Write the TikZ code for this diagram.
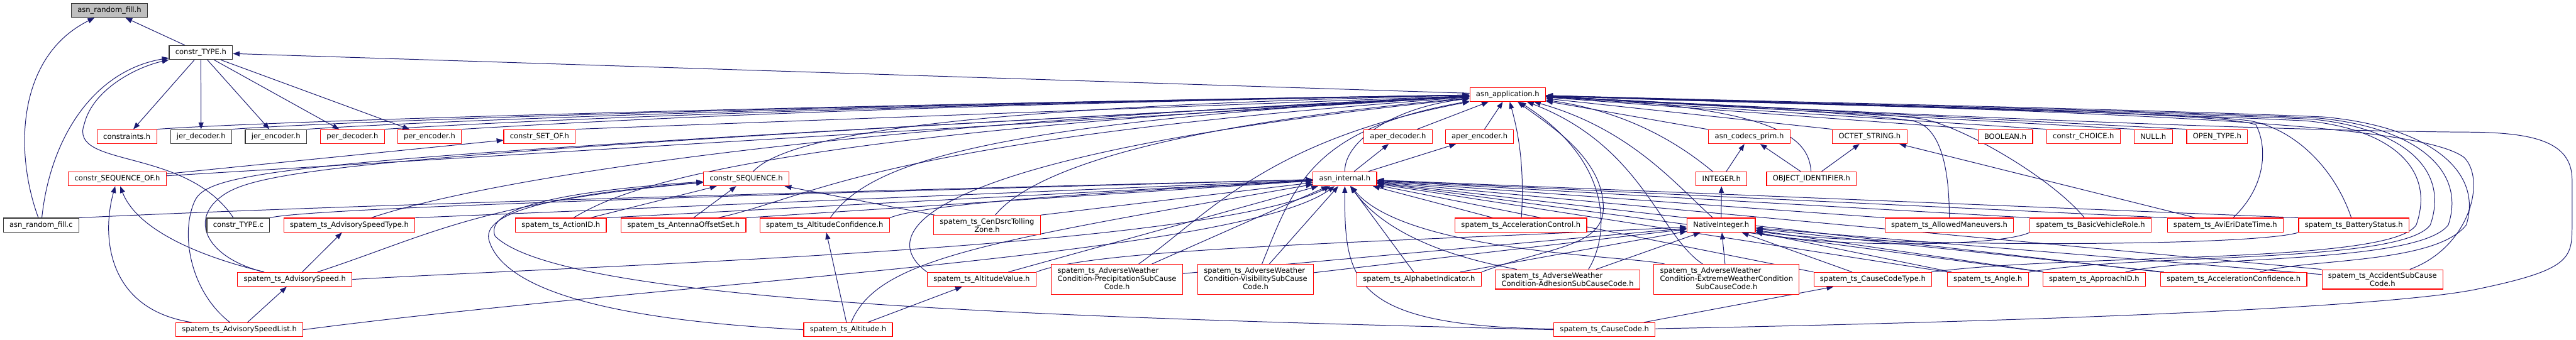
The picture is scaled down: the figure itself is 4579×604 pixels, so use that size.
\documentclass[tikz,border=0pt]{standalone}
\usepackage{fontspec}
\usetikzlibrary{arrows.meta, backgrounds}
\newfontfamily\doxfont{DejaVu Sans}
\definecolor{DoxEdge}{HTML}{191970}
\definecolor{DoxRed}{HTML}{FF0000}
\definecolor{DoxRoot}{HTML}{BFBFBF}
\newcommand{\doxsize}{\doxfont\fontsize{12.9}{14.5}\selectfont}
\newcommand{\threeline}[3]{\begin{tabular}{@{}l@{}}#1\\#2\\\multicolumn{1}{@{}c@{}}{#3}\end{tabular}}

\begin{document}
\begin{tikzpicture}[x=1pt, y=-1pt,
    hfile/.style={draw=DoxRed, line width=1.3pt, fill=white, font=\doxsize, inner xsep=11pt, inner ysep=5pt, minimum height=25pt},
    hdone/.style={hfile, draw=black!80},
    hroot/.style={hdone, fill=DoxRoot},
    incl/.style={draw=DoxEdge, line width=1.1pt, -{Triangle[length=12pt, width=9pt]}}
]
\useasboundingbox (0,0) rectangle (4579,604);

% top
\node[hroot] (rfillh) at (194.5,18.5) {asn\_random\_fill.h};
\node[hdone] (typeh) at (357,93.5) {constr\_TYPE.h};
\node[hfile] (app) at (2680,168) {asn\_application.h};

% codec headers
\node[hfile] (constraints) at (225.5,243) {constraints.h};
\node[hdone] (jerdec) at (357.5,243) {jer\_decoder.h};
\node[hdone] (jerenc) at (490.5,243) {jer\_encoder.h};
\node[hfile] (perdec) at (626.5,243) {per\_decoder.h};
\node[hfile] (perenc) at (763.5,243) {per\_encoder.h};
\node[hfile] (setof) at (959,243) {constr\_SET\_OF.h};
\node[hfile] (aperdec) at (2485,243) {aper\_decoder.h};
\node[hfile] (aperenc) at (2630,243) {aper\_encoder.h};
\node[hfile] (codecsprim) at (3109.5,243) {asn\_codecs\_prim.h};
\node[hfile] (octet) at (3323.5,243) {OCTET\_STRING.h};
\node[hfile] (boolean) at (3564.5,243) {BOOLEAN.h};
\node[hfile] (choice) at (3703.5,243) {constr\_CHOICE.h};
\node[hfile] (nullh) at (3827.5,243) {NULL.h};
\node[hfile] (opentype) at (3941,243) {OPEN\_TYPE.h};

% constructed types
\node[hfile] (seqof) at (208.5,318) {constr\_SEQUENCE\_OF.h};
\node[hfile] (sequence) at (1326.5,318) {constr\_SEQUENCE.h};
\node[hfile] (internal) at (2390.5,318) {asn\_internal.h};
\node[hfile] (integer) at (3060,318) {INTEGER.h};
\node[hfile] (objid) at (3220,318) {OBJECT\_IDENTIFIER.h};

% middle row
\node[hdone] (rfillc) at (73,400.5) {asn\_random\_fill.c};
\node[hdone] (typec) at (423.5,400.5) {constr\_TYPE.c};
\node[hfile] (advtype) at (621,400.5) {spatem\_ts\_AdvisorySpeedType.h};
\node[hfile] (actionid) at (997,400.5) {spatem\_ts\_ActionID.h};
\node[hfile] (antenna) at (1215,400.5) {spatem\_ts\_AntennaOffsetSet.h};
\node[hfile] (altconf) at (1466,400.5) {spatem\_ts\_AltitudeConfidence.h};
\node[hfile, align=center] (tolling) at (1754.5,400.5) {spatem\_ts\_CenDsrcTolling\\Zone.h};
\node[hfile] (accelctrl) at (2703.5,400.5) {spatem\_ts\_AccelerationControl.h};
\node[hfile] (nativeint) at (3059.5,400.5) {NativeInteger.h};
\node[hfile] (allowed) at (3465,400.5) {spatem\_ts\_AllowedManeuvers.h};
\node[hfile] (basicveh) at (3716,400.5) {spatem\_ts\_BasicVehicleRole.h};
\node[hfile] (avieri) at (3955.5,400.5) {spatem\_ts\_AviEriDateTime.h};
\node[hfile] (battery) at (4184,400.5) {spatem\_ts\_BatteryStatus.h};

% lower row
\node[hfile] (advspeed) at (524,497) {spatem\_ts\_AdvisorySpeed.h};
\node[hfile] (altvalue) at (1745,497) {spatem\_ts\_AltitudeValue.h};
\node[hfile] (precip) at (1985.5,497) {\threeline{spatem\_ts\_AdverseWeather}{Condition-PrecipitationSubCause}{Code.h}};
\node[hfile] (visib) at (2232,497) {\threeline{spatem\_ts\_AdverseWeather}{Condition-VisibilitySubCause}{Code.h}};
\node[hfile] (alphabet) at (2522.5,497) {spatem\_ts\_AlphabetIndicator.h};
\node[hfile, align=left] (adhesion) at (2786.5,497) {spatem\_ts\_AdverseWeather\\Condition-AdhesionSubCauseCode.h};
\node[hfile] (extreme) at (3069,497) {\threeline{spatem\_ts\_AdverseWeather}{Condition-ExtremeWeatherCondition}{SubCauseCode.h}};
\node[hfile] (causetype) at (3329,497) {spatem\_ts\_CauseCodeType.h};
\node[hfile] (angle) at (3533.5,497) {spatem\_ts\_Angle.h};
\node[hfile] (approach) at (3722.5,497) {spatem\_ts\_ApproachID.h};
\node[hfile] (accconf) at (3970.5,497) {spatem\_ts\_AccelerationConfidence.h};
\node[hfile, align=center] (accident) at (4235,497) {spatem\_ts\_AccidentSubCause\\Code.h};

% bottom row
\node[hfile] (advlist) at (425.5,586.5) {spatem\_ts\_AdvisorySpeedList.h};
\node[hfile] (altitude) at (1507.5,586.5) {spatem\_ts\_Altitude.h};
\node[hfile] (causecode) at (2852,586.5) {spatem\_ts\_CauseCode.h};

\begin{scope}[on background layer]
\fill[white] (0,0) rectangle (4579,604);
% constr_TYPE.h and asn_random_fill
\draw[incl] (typeh) -- (rfillh);
\draw[incl] (rfillc) .. controls (25,270) and (30,100) .. (rfillh);
\draw[incl] (rfillc) .. controls (90,240) and (170,125) .. (typeh);
\draw[incl] (typec) .. controls (330,260) and (120,300) .. (150,220) .. controls (165,160) and (240,120) .. (typeh);
\draw[incl] (app) -- (typeh);
\draw[incl] (typeh) -- (constraints);
\draw[incl] (typeh) -- (jerdec);
\draw[incl] (typeh) -- (jerenc);
\draw[incl] (typeh) -- (perdec);
\draw[incl] (typeh) -- (perenc);
\draw[incl] (constraints.north east) .. controls (500,214) and (1500,186) .. (app);
\draw[incl] (jerdec.north east) .. controls (630,214) and (1500,186) .. (app);
\draw[incl] (jerenc.north east) .. controls (760,215) and (1500,187) .. (app);
\draw[incl] (perdec.north east) .. controls (900,216) and (1500,188) .. (app);
\draw[incl] (perenc.north east) .. controls (1020,218) and (1500,189) .. (app);

% left group
\draw[incl] (seqof) -- (setof);
\draw[incl] (seqof) -- (app);
\draw[incl] (setof.north east) -- (app);
\draw[incl] (advspeed) .. controls (330,450) and (240,400) .. (seqof);
\draw[incl] (advlist) .. controls (190,550) and (180,420) .. (seqof);
\draw[incl] (advlist) -- (advspeed);
\draw[incl] (advspeed) -- (advtype);
\draw[incl] (advlist) .. controls (340,520) and (320,420) .. (345,360) .. controls (370,300) and (500,282) .. (app);
\draw[incl] (advspeed) .. controls (370,460) and (330,390) .. (400,345) .. controls (470,300) and (700,270) .. (app);
\draw[incl] (advspeed) .. controls (760,420) and (850,360) .. (sequence);
\draw[incl] (advspeed.east) .. controls (1100,470) and (2150,440) .. (internal);
\draw[incl] (advlist.east) .. controls (1200,500) and (2200,455) .. (internal);
\draw[incl] (advtype) .. controls (800,340) and (1300,230) .. (app);
\draw[incl] (advtype.north east) -- (internal);
\draw[incl] (rfillc.north east) .. controls (600,365) and (1500,340) .. (internal);
\draw[incl] (typec.north east) .. controls (560,368) and (1500,342) .. (internal);

% middle group
\draw[incl] (sequence) .. controls (1400,240) and (1700,190) .. (app);
\draw[incl] (actionid) -- (sequence);
\draw[incl] (actionid) .. controls (1100,340) and (1300,240) .. (app);
\draw[incl] (actionid.north east) -- (internal);
\draw[incl] (antenna) -- (sequence);
\draw[incl] (antenna) .. controls (1450,350) and (1550,250) .. (app);
\draw[incl] (antenna.north east) -- (internal);
\draw[incl] (altconf) .. controls (1540,300) and (1700,220) .. (app);
\draw[incl] (altconf.north east) .. controls (1650,360) and (2000,340) .. (internal);
\draw[incl] (altitude) -- (altconf);
\draw[incl] (altitude) -- (altvalue);
\draw[incl] (altitude) .. controls (1560,460) and (1750,430) .. (internal);
\draw[incl] (altitude.west) .. controls (1100,570) and (900,520) .. (870,430) .. controls (850,375) and (1000,345) .. (sequence);
\draw[incl] (tolling) -- (sequence);
\draw[incl] (tolling) .. controls (1820,320) and (2000,230) .. (app);
\draw[incl] (tolling.north east) -- (internal);
\draw[incl] (altvalue.north west) .. controls (1560,420) and (1600,280) .. (app);
\draw[incl] (altvalue) -- (internal);
\draw[incl] (altvalue.north east) .. controls (1950,440) and (2500,430) .. (nativeint);
\draw[incl] (precip) .. controls (2150,380) and (2250,250) .. (app);
\draw[incl] (precip) -- (internal);
\draw[incl] (precip) -- (nativeint);
\draw[incl] (visib) .. controls (2300,330) and (2330,230) .. (app);
\draw[incl] (visib) -- (internal);
\draw[incl] (visib) -- (nativeint);
\draw[incl] (alphabet) -- (internal);
\draw[incl] (alphabet) -- (nativeint);
\draw[incl] (alphabet.north east) .. controls (2750,440) and (2850,440) .. (2850,370) .. controls (2850,280) and (2750,220) .. (app);
\draw[incl] (adhesion) .. controls (2650,470) and (2480,440) .. (internal);
\draw[incl] ([xshift=37pt]adhesion.north) .. controls (2860,420) and (2870,290) .. (app);
\draw[incl] (adhesion) -- (nativeint);
\draw[incl] (extreme) .. controls (2950,420) and (2920,260) .. (app);
\draw[incl] (extreme) -- (nativeint);
\draw[incl] (extreme) .. controls (2900,455) and (2500,450) .. (internal);
\draw[incl] (accelctrl) -- (internal);
\draw[incl] (accelctrl) .. controls (2710,300) and (2700,240) .. (app);

% right group
\draw[incl] (aperdec) -- (app);
\draw[incl] (aperenc) -- (app);
\draw[incl] (internal) -- (aperdec);
\draw[incl] (internal) -- (aperenc);
\draw[incl] (internal) .. controls (2390,250) and (2480,190) .. (app);
\draw[incl] (codecsprim) -- (app);
\draw[incl] (integer) -- (codecsprim);
\draw[incl] (integer) .. controls (2990,260) and (2900,200) .. (app);
\draw[incl] (objid) -- (codecsprim);
\draw[incl] (objid) -- (octet);
\draw[incl] (objid) .. controls (3215,240) and (3150,190) .. (app);
\draw[incl] (nativeint) -- (integer);
\draw[incl] (nativeint) .. controls (2980,330) and (2900,230) .. (app);
\draw[incl] (octet.north west) -- (app);
\draw[incl] (boolean.north west) -- (app);
\draw[incl] (choice.north west) -- (app);
\draw[incl] (nullh.north west) -- (app);
\draw[incl] (opentype.north west) -- (app);
\draw[incl] (avieri) -- (octet);
\draw[incl] (avieri) .. controls (4030,330) and (4030,260) .. (4010,222) .. controls (3950,198) and (3300,190) .. (app);
\draw[incl] (avieri.north west) -- (internal);
\draw[incl] (allowed) .. controls (3465,300) and (3450,225) .. (3400,215) .. controls (3300,200) and (3000,185) .. (app);
\draw[incl] (allowed.north west) -- (internal);
\draw[incl] (basicveh) .. controls (3650,320) and (3500,230) .. (3420,212) .. controls (3300,195) and (3000,185) .. (app);
\draw[incl] (basicveh.north west) -- (internal);
\draw[incl] (basicveh.south west) .. controls (3550,440) and (3250,440) .. (nativeint);
\draw[incl] (battery) .. controls (4150,300) and (4080,230) .. (4000,215) .. controls (3900,200) and (3300,190) .. (app);
\draw[incl] (battery.north west) -- (internal);
\draw[incl] (battery.south west) .. controls (4000,440) and (3300,440) .. (nativeint);
\draw[incl] (causetype) -- (nativeint);
\draw[incl] (causetype.north west) -- (internal);
\draw[incl] (causetype) .. controls (3700,450) and (4250,470) .. (4295,400) .. controls (4330,300) and (4250,230) .. (4100,215) .. controls (3800,200) and (3200,185) .. (app);
\draw[incl] (angle) -- (nativeint);
\draw[incl] (angle.north west) -- (internal);
\draw[incl] (angle) .. controls (3800,450) and (4270,470) .. (4320,400) .. controls (4355,300) and (4270,228) .. (4110,212) .. controls (3800,198) and (3200,184) .. (app);
\draw[incl] (approach) -- (nativeint);
\draw[incl] (approach.north west) -- (internal);
\draw[incl] (approach) .. controls (3900,455) and (4300,470) .. (4352,400) .. controls (4385,300) and (4290,226) .. (4120,210) .. controls (3800,196) and (3200,183) .. (app);
\draw[incl] (accconf) -- (nativeint);
\draw[incl] (accconf.north west) -- (internal);
\draw[incl] (accconf) .. controls (4100,460) and (4330,470) .. (4384,400) .. controls (4415,300) and (4310,224) .. (4130,208) .. controls (3800,194) and (3200,182) .. (app);
\draw[incl] (accident) -- (nativeint);
\draw[incl] (accident.north west) -- (internal);
\draw[incl] (accident) .. controls (4390,440) and (4420,320) .. (4380,280) .. controls (4300,220) and (3800,200) .. (app);
\draw[incl] (causecode) -- (causetype);
\draw[incl] (causecode) .. controls (3700,570) and (4250,545) .. (4400,515) .. controls (4570,480) and (4572,460) .. (4572,400) -- (4572,320) .. controls (4572,250) and (4500,235) .. (4380,235) .. controls (4000,232) and (3300,200) .. (app);
\draw[incl] (causecode) .. controls (2400,580) and (2390,500) .. (internal);
\draw[incl] (causecode.west) .. controls (1900,565) and (1000,540) .. (880,420) .. controls (860,370) and (1000,340) .. (sequence);
\end{scope}

\end{tikzpicture}
\end{document}
